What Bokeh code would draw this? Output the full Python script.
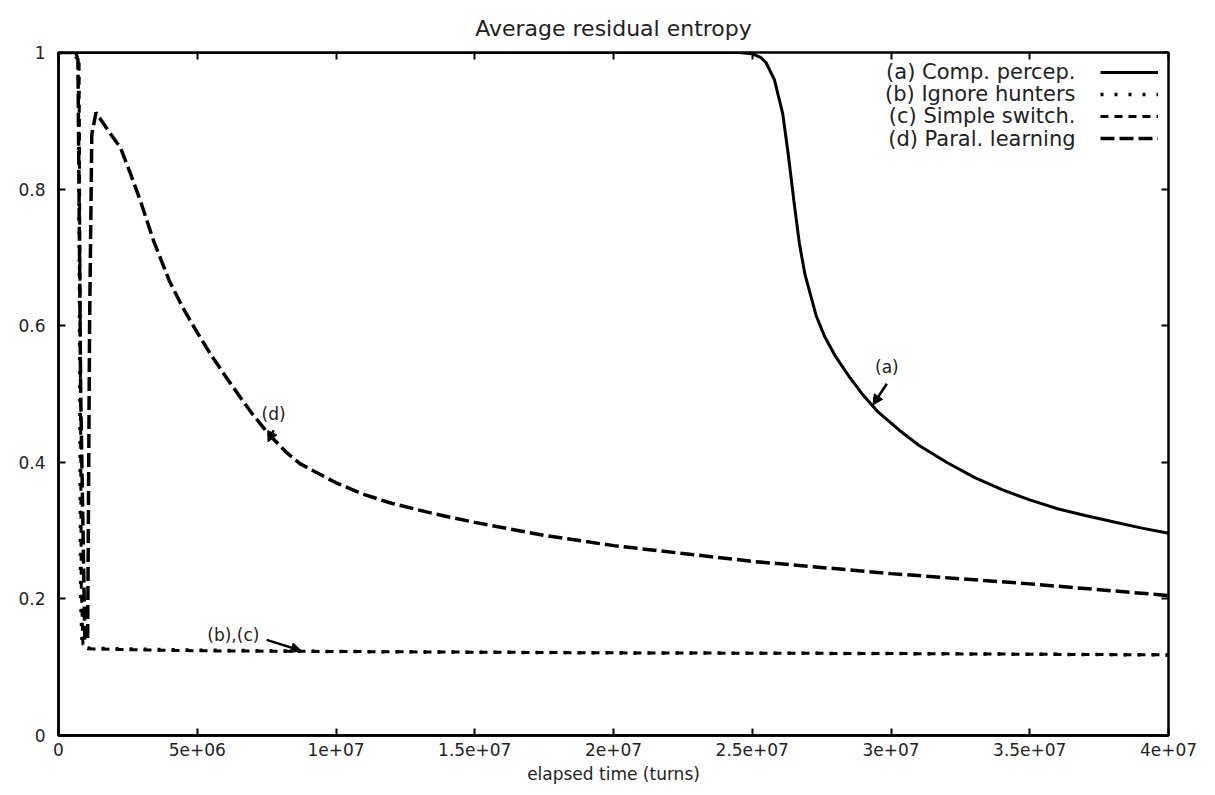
from bokeh.plotting import figure
from bokeh.models import (Range1d, FixedTicker, LinearAxis, Legend, LegendItem,
                          Label, Arrow, NormalHead)
from bokeh.embed import file_html
from bokeh.resources import INLINE

# ---------------- data ----------------
x_ticks = [0, 5e6, 1e7, 1.5e7, 2e7, 2.5e7, 3e7, 3.5e7, 4e7]
x_tick_labels = ["0", "5e+06", "1e+07", "1.5e+07", "2e+07", "2.5e+07", "3e+07", "3.5e+07", "4e+07"]
y_ticks = [0, 0.2, 0.4, 0.6, 0.8, 1.0]
y_tick_labels = ["0", "0.2", "0.4", "0.6", "0.8", "1"]

title_text = "Average residual entropy"

# (a) Comp. percep.
a_x = [0, 1e7, 2e7, 2.45e7, 2.5e7, 2.53e7, 2.55e7, 2.58e7, 2.61e7, 2.63e7, 2.65e7, 2.67e7,
       2.69e7, 2.71e7, 2.73e7, 2.76e7, 2.8e7, 2.85e7, 2.9e7, 2.95e7, 3.03e7, 3.1e7, 3.2e7,
       3.3e7, 3.4e7, 3.5e7, 3.6e7, 3.7e7, 3.8e7, 3.9e7, 4e7]
a_y = [1.0, 1.0, 1.0, 1.0, 0.998, 0.993, 0.985, 0.96, 0.91, 0.85, 0.783, 0.72,
       0.675, 0.645, 0.615, 0.585, 0.555, 0.525, 0.498, 0.475, 0.447, 0.425, 0.4,
       0.378, 0.36, 0.345, 0.332, 0.322, 0.313, 0.304, 0.296]

# (b) Ignore hunters
b_x = [0, 4e5, 6e5, 7.2e5, 7.6e5, 8e5, 8.5e5, 1.0e6, 2e6, 5e6, 1e7, 1.5e7, 2e7, 3e7, 4e7]
b_y = [1.0, 1.0, 1.0, 0.99, 0.6, 0.2, 0.135, 0.128, 0.127, 0.125, 0.123, 0.122, 0.121, 0.12, 0.118]

# (c) Simple switch.
c_x = [0, 4e5, 6e5, 7.4e5, 7.8e5, 8.2e5, 8.8e5, 1.05e6, 2e6, 5e6, 1e7, 1.5e7, 2e7, 3e7, 4e7]
c_y = [1.0, 1.0, 1.0, 0.99, 0.62, 0.22, 0.133, 0.127, 0.126, 0.124, 0.123, 0.122, 0.121, 0.12, 0.118]

# (d) Paral. learning
d_x = [0, 5e5, 7e5, 8e5, 9.5e5, 1.05e6, 1.12e6, 1.2e6, 1.35e6, 1.87e6, 2.23e6, 2.59e6,
       2.95e6, 3.42e6, 4e6, 4.5e6, 5e6, 5.5e6, 6e6, 6.5e6, 7e6, 7.6e6, 8.2e6, 8.7e6,
       1e7, 1.1e7, 1.2e7, 1.35e7, 1.5e7, 1.75e7, 2e7, 2.5e7, 3e7, 3.5e7, 4e7]
d_y = [1.0, 1.0, 0.99, 0.5, 0.14, 0.14, 0.6, 0.88, 0.912, 0.881, 0.861, 0.823,
       0.783, 0.725, 0.665, 0.625, 0.59, 0.557, 0.527, 0.498, 0.47, 0.44, 0.415, 0.398,
       0.37, 0.353, 0.34, 0.325, 0.312, 0.293, 0.278, 0.255, 0.237, 0.222, 0.205]

legend_labels = ["(a) Comp. percep.", "(b) Ignore hunters", "(c) Simple switch.", "(d) Paral. learning"]
legend_text_x = 3.665e7
legend_text_y = [0.971, 0.939, 0.907, 0.874]

note_texts = ["(a)", "(d)", "(b),(c)"]
note_x = [2.985e7, 7.75e6, 6.3e6]
note_y = [0.54, 0.47, 0.147]
arrow_start_x = [2.985e7, 7.75e6, 7.5e6]
arrow_start_y = [0.515, 0.447, 0.14]
arrow_end_x = [2.935e7, 7.55e6, 8.75e6]
arrow_end_y = [0.484, 0.43, 0.124]

FONT = "DejaVu Sans"

# ---------------- figure ----------------
p = figure(width=1207, height=787, output_backend="svg", toolbar_location=None,
           x_range=Range1d(0, 4e7), y_range=Range1d(0, 1),
           min_border_left=58, min_border_right=39, min_border_top=52, min_border_bottom=52,
           title=title_text)
p.title.align = "center"
p.title.vertical_align = "top"
p.title.text_font = FONT
p.title.text_font_size = "22px"
p.title.text_font_style = "normal"
p.title.text_color = "#222222"
p.title.standoff = 20

p.grid.visible = False
p.outline_line_color = "black"
p.outline_line_width = 2.5
p.background_fill_color = "white"
p.border_fill_color = "white"

xa = p.xaxis[0]
xa.ticker = FixedTicker(ticks=x_ticks)
xa.major_label_overrides = {t: l for t, l in zip(x_ticks, x_tick_labels)}
xa.axis_label = "elapsed time (turns)"
ya = p.yaxis[0]
ya.ticker = FixedTicker(ticks=y_ticks)
ya.major_label_overrides = {t: l for t, l in zip(y_ticks, y_tick_labels)}

for ax in (xa, ya):
    ax.axis_line_width = 2.5
    ax.major_tick_in = 7
    ax.major_tick_out = 0
    ax.major_tick_line_width = 2
    ax.minor_tick_line_color = None
    ax.major_label_text_font = FONT
    ax.major_label_text_font_size = "17px"
    ax.major_label_text_color = "#222222"
    ax.axis_label_text_font = FONT
    ax.axis_label_text_font_size = "17px"
    ax.axis_label_text_font_style = "normal"
    ax.axis_label_text_color = "#222222"
ya.major_label_standoff = 13
xa.major_label_standoff = 7
xa.axis_label_standoff = 5

top = LinearAxis(ticker=FixedTicker(ticks=x_ticks), major_label_text_font_size="0px",
                 axis_line_color=None, major_tick_in=7, major_tick_out=0,
                 major_tick_line_width=2, minor_tick_line_color=None, major_label_standoff=0)
right = LinearAxis(ticker=FixedTicker(ticks=y_ticks), major_label_text_font_size="0px",
                   axis_line_color=None, major_tick_in=7, major_tick_out=0,
                   major_tick_line_width=2, minor_tick_line_color=None, major_label_standoff=0)
p.add_layout(top, "above")
p.add_layout(right, "right")

ra = p.line(a_x, a_y, line_color="black", line_width=3)
rb = p.line(b_x, b_y, line_color="black", line_width=3.5, line_dash="3 11")
rc = p.line(c_x, c_y, line_color="black", line_width=3, line_dash="8 6")
rd = p.line(d_x, d_y, line_color="black", line_width=3.5, line_dash="14 5")

legend = Legend(items=[LegendItem(label=" ", renderers=[r]) for r in (ra, rb, rc, rd)],
                location="top_right", border_line_color=None, background_fill_alpha=0,
                glyph_width=58, glyph_height=20, spacing=2, label_width=0, label_standoff=0,
                label_text_font_size="8px", padding=10, margin=10)
p.add_layout(legend)

for lab, ly in zip(legend_labels, legend_text_y):
    p.add_layout(Label(x=legend_text_x, y=ly, text=lab, text_align="right",
                       text_baseline="middle", text_font=FONT, text_font_size="21px",
                       text_color="#222222"))

for t, nx, ny in zip(note_texts, note_x, note_y):
    p.add_layout(Label(x=nx, y=ny, text=t, text_align="center", text_baseline="middle",
                       text_font=FONT, text_font_size="17px", text_color="#222222"))

for sx, sy, ex, ey in zip(arrow_start_x, arrow_start_y, arrow_end_x, arrow_end_y):
    p.add_layout(Arrow(x_start=sx, y_start=sy, x_end=ex, y_end=ey, line_width=2.5,
                       end=NormalHead(size=10, fill_color="black", line_color="black")))

open("out.html", "w").write(file_html(p, INLINE))
